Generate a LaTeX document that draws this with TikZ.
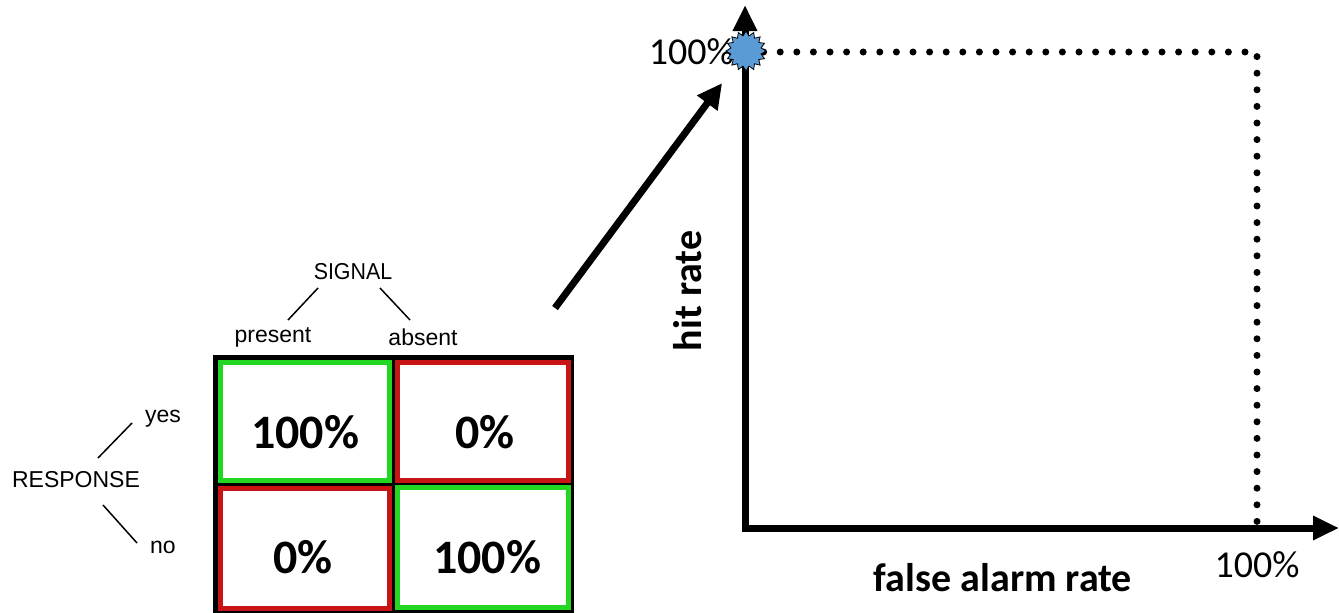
\documentclass[tikz,border=0pt]{standalone}
\usepackage{fontspec}
\setmainfont{Carlito}
\newfontfamily\arialf{Liberation Sans}
\usetikzlibrary{arrows.meta,shapes.geometric}
\definecolor{cgreen}{RGB}{34,214,34}
\definecolor{cred}{RGB}{200,20,20}
\definecolor{starblue}{RGB}{91,155,213}
\tikzset{
  cellbox/.style={draw=#1, line width=5pt, fill=white, inner sep=0pt},
  celltext/.style={font=\fontsize{48}{52}\selectfont\bfseries, inner sep=0pt},
  small/.style={font=\arialf\fontsize{23}{25}\selectfont, inner sep=0pt},
  thinline/.style={line width=1.5pt},
  axislabel/.style={font=\fontsize{40}{44}\selectfont\bfseries, inner sep=0pt},
  pct/.style={font=\fontsize{38}{42}\selectfont, inner sep=0pt},
  bigarrow/.style={line width=7pt, -{Triangle[length=25pt,width=24pt]}},
}
\begin{document}
\begin{tikzpicture}[x=1pt,y=-1pt]
\useasboundingbox (0,0) rectangle (1339,613);
% table
\fill[black] (213,355) rectangle (574,613);
\node[cellbox=cgreen, minimum width=169pt, minimum height=118pt] (tl) at (305,421.5) {};
\node[cellbox=cred, minimum width=171pt, minimum height=118pt] (tr) at (483,421.5) {};
\node[cellbox=cred, minimum width=169pt, minimum height=120pt] (bl) at (305,548.5) {};
\node[cellbox=cgreen, minimum width=171pt, minimum height=120pt] (br) at (483,547.5) {};
\node[celltext] (tlt) at (305,432) {100\%};
\node[celltext] (trt) at (485,432) {0\%};
\node[celltext] (blt) at (303,557) {0\%};
\node[celltext] (brt) at (487,557) {100\%};
% labels
\node[small, xscale=0.93] (signal) at (353,272) {SIGNAL};
\node[small] (present) at (273,337) {present};
\node[small] (absent) at (423,337) {absent};
\node[small] (response) at (76,480) {RESPONSE};
\node[small] (yes) at (163,419) {yes};
\node[small] (no) at (163,547) {no};
\coordinate (s1) at (318,288); \coordinate (s2) at (288,320);
\coordinate (s3) at (380,288); \coordinate (s4) at (410,320);
\coordinate (r1) at (98,458); \coordinate (r2) at (132,423);
\coordinate (r3) at (103,505); \coordinate (r4) at (137,543);
\draw[thinline] (s1) -- (s2);
\draw[thinline] (s3) -- (s4);
\draw[thinline] (r1) -- (r2);
\draw[thinline] (r3) -- (r4);
% plot
\coordinate (origin) at (745,528);
\coordinate (ytip) at (745,5);
\coordinate (xtip) at (1339,528);
\coordinate (cornerTR) at (1257,52);
\coordinate (cornerBR) at (1257,528);
\draw[line width=7pt, line cap=round, dash pattern=on 0pt off 16.6pt] (747,52) -- (cornerTR) -- (cornerBR);
\draw[line width=7pt, {Triangle[length=26pt,width=23pt]}-{Triangle[length=26pt,width=23pt]}] (ytip) -- (origin) -- (xtip);
\node[pct, anchor=east] (top100) at (734,52) {100\%};
\node[star, star points=16, star point ratio=1.3, minimum size=40pt, inner sep=0pt, fill=starblue, draw=black, line width=0.8pt] (pt) at (746,51) {};
\node[pct] (bot100) at (1257,565) {100\%};
\node[axislabel, rotate=90] (hit) at (688,291) {hit rate};
\node[axislabel] (far) at (1003,578) {false alarm rate};
\coordinate (astart) at (555,308);
\draw[bigarrow, shorten >=40pt] (astart) -- (pt.center);
\end{tikzpicture}
\end{document}
